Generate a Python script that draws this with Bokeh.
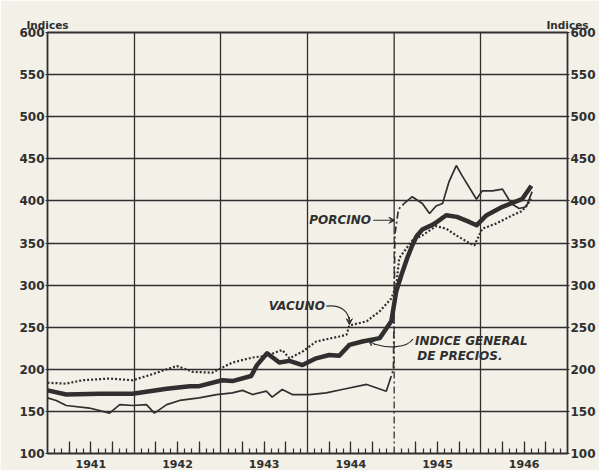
from bokeh.plotting import figure
from bokeh.models import FixedTicker, LinearAxis, Range1d, Label, Arrow, VeeHead
from bokeh.embed import file_html
from bokeh.resources import INLINE

# x values: months elapsed since January 1941
anios = ["1941", "1942", "1943", "1944", "1945", "1946"]
y_ticks = [100, 150, 200, 250, 300, 350, 400, 450, 500, 550, 600]
encabezado = "Indices"

indice_mes = [0, 2.6, 7.2, 11.8, 16.5, 19.7, 21, 24.2, 25.6, 28.2, 29, 30.4, 32.1, 33.5,
              35.3, 37.2, 39, 40.4, 41.8, 43.6, 46, 47.6, 48.3, 49, 49.8, 50.5, 51.1, 51.9,
              52.9, 53.6, 55.2, 56.7, 58.4, 59.4, 60.8, 63, 65.7, 67]
indice_val = [175, 170, 171, 171, 177, 180, 180, 187, 186, 192, 205, 219, 208, 210,
              205, 213, 217, 216, 229, 233, 237, 257, 293, 312, 332, 347, 358, 366,
              370, 373, 383, 381, 375, 371, 383, 393, 402, 418]

vacuno_mes = [0, 2.6, 4.8, 8.6, 11.8, 14.1, 17.9, 20.1, 22.8, 25.6, 28.4, 30.3, 32.5, 33.5,
              35.3, 37.2, 40.4, 41.4, 41.8, 44.2, 46, 47.6, 48.3, 48.7, 50.5, 51.9, 53.8,
              55.2, 56.6, 58.4, 59.1, 60.2, 62.1, 64.4, 65.7, 67]
vacuno_val = [184, 183, 187, 189, 187, 193, 204, 197, 196, 208, 214, 216, 223, 213,
              221, 233, 239, 241, 252, 257, 269, 284, 300, 332, 353, 359, 370,
              367, 359, 350, 347, 367, 373, 383, 388, 402]

porcino1_mes = [0, 1.2, 2.6, 5.8, 8.6, 10, 11.8, 13.7, 14.8, 16.5, 18.3, 21, 23.4, 25.6, 27,
                28.4, 30.3, 31.1, 32.5, 33.9, 36.3, 38.6, 40.8, 44.2, 46.9, 47.3]
porcino1_val = [166, 163, 157, 154, 148, 158, 157, 158, 148, 158, 163, 166, 170, 172, 175,
                170, 174, 167, 176, 170, 170, 172, 176, 182, 174, 184]
porcino_salto_mes = [47.3, 47.9, 48.1, 48.6, 49.4]
porcino_salto_val = [184, 200, 360, 390, 397]
porcino2_mes = [49.4, 50.5, 51.9, 52.9, 53.8, 54.7, 55.6, 56.6, 57.4, 59.4, 60.2, 61.6, 63,
                64.2, 65.3, 66.3, 67.1]
porcino2_val = [397, 405, 397, 385, 394, 397, 423, 442, 430, 402, 412, 412, 414,
                397, 391, 393, 411]

INK = "#2f2f2f"
PAPER = "#f3f0e7"
FONT = "DejaVu Sans"

p = figure(width=599, height=470, output_backend="svg", toolbar_location=None,
           x_range=Range1d(0, 72), y_range=Range1d(100, 600),
           min_border_left=47, min_border_right=32, min_border_top=32, min_border_bottom=16,
           background_fill_color=PAPER, border_fill_color=PAPER)

p.outline_line_color = INK
p.outline_line_width = 1.8

# grid
year_bounds = [12 * i for i in range(len(anios) + 1)]
p.xgrid.ticker = FixedTicker(ticks=[b for b in year_bounds if b not in (0, 48, 72)])
p.ygrid.ticker = FixedTicker(ticks=y_ticks[1:-1])
for g in (p.xgrid, p.ygrid):
    g.grid_line_color = INK
    g.grid_line_width = 1.3
    g.grid_line_alpha = 1.0

# 1945 gridline: solid above, dash-dot below
p.segment(x0=[48], y0=[360], x1=[48], y1=[600], line_color=INK, line_width=1.3)
p.segment(x0=[48], y0=[100], x1=[48], y1=[360], line_color=INK, line_width=1.3,
          line_dash="7 3 2 3")

# x axis: quarterly long ticks, monthly short ticks, year labels
quarters = [12 * i + q for i in range(len(anios)) for q in (3, 6, 9)]
months = [12 * i + m for i in range(len(anios)) for m in range(1, 12)]
xa = p.xaxis[0]
xa.ticker = FixedTicker(ticks=quarters, minor_ticks=months)
overrides = {}
for i, a in enumerate(anios):
    overrides[12 * i + 3] = ""
    overrides[12 * i + 6] = a
    overrides[12 * i + 9] = ""
xa.major_label_overrides = overrides
xa.major_tick_in = 12
xa.major_tick_out = 0
xa.minor_tick_in = 5
xa.minor_tick_out = 0
xa.axis_line_color = INK
xa.major_tick_line_color = INK
xa.minor_tick_line_color = INK
xa.major_tick_line_width = 1.3
xa.minor_tick_line_width = 1.2
xa.major_label_standoff = 6
xa.major_label_text_font = FONT
xa.major_label_text_font_style = "bold"
xa.major_label_text_font_size = "11px"
xa.major_label_text_color = INK

# y axes
ra = LinearAxis()
p.add_layout(ra, "right")
for ax in (p.yaxis[0], ra):
    ax.ticker = FixedTicker(ticks=y_ticks)
    ax.major_tick_in = 0
    ax.major_tick_out = 2
    ax.minor_tick_out = 0
    ax.minor_tick_in = 0
    ax.axis_line_color = INK
    ax.major_tick_line_color = INK
    ax.major_label_standoff = 1
    ax.major_label_text_font = FONT
    ax.major_label_text_font_style = "bold"
    ax.major_label_text_font_size = "12px"
    ax.major_label_text_color = INK

# "Indices" headers above both value axes
ta = LinearAxis(ticker=FixedTicker(ticks=[0, 72]),
                major_label_overrides={0: encabezado, 72: encabezado},
                axis_line_color=None, major_tick_line_color=None, minor_tick_line_color=None,
                major_tick_out=0, major_tick_in=0,
                major_label_standoff=2, major_label_text_font=FONT,
                major_label_text_font_style="bold", major_label_text_font_size="10.5px",
                major_label_text_color=INK)
p.add_layout(ta, "above")

# series
p.line(vacuno_mes, vacuno_val, line_color=INK, line_width=2.2, line_dash="2 2")
p.line(porcino1_mes, porcino1_val, line_color=INK, line_width=1.7)
p.line(porcino_salto_mes, porcino_salto_val, line_color=INK, line_width=1.7, line_dash="7 3 2 3")
p.line(porcino2_mes, porcino2_val, line_color=INK, line_width=1.7)
p.line(indice_mes, indice_val, line_color=INK, line_width=4.5, line_join="round")

# texts
def lab(x, y, t, size="12px", style="bold italic", align="left", base="middle"):
    p.add_layout(Label(x=x, y=y, text=t, text_font=FONT, text_font_style=style,
                       text_font_size=size, text_color=INK, text_align=align,
                       text_baseline=base))

lab(44.8, 377, "PORCINO", align="right")
lab(38.4, 275, "VACUNO", align="right")
lab(50.9, 234, "INDICE GENERAL")
lab(51.2, 216, "DE PRECIOS.")

p.add_layout(Arrow(end=VeeHead(size=6, line_color=INK, fill_color=INK, line_width=1),
                   x_start=45.1, y_start=377, x_end=48.1, y_end=377,
                   line_color=INK, line_width=1.2))
p.bezier(x0=[38.6], y0=[275], x1=[41.8], y1=[258], cx0=[40.5], cy0=[277], cx1=[41.6], cy1=[270],
         line_color=INK, line_width=1.2)
p.add_layout(Arrow(end=VeeHead(size=6, line_color=INK, fill_color=INK, line_width=1),
                   x_start=41.8, y_start=262, x_end=41.8, y_end=253,
                   line_color=INK, line_width=1.2))
p.bezier(x0=[50.6], y0=[236], x1=[45.2], y1=[230], cx0=[49.8], cy0=[225], cx1=[47.0], cy1=[225],
         line_color=INK, line_width=1.2)
p.add_layout(Arrow(end=VeeHead(size=6, line_color=INK, fill_color=INK, line_width=1),
                   x_start=45.4, y_start=229, x_end=44.4, y_end=235,
                   line_color=INK, line_width=1.2))

open("out.html", "w").write(file_html(p, INLINE))
